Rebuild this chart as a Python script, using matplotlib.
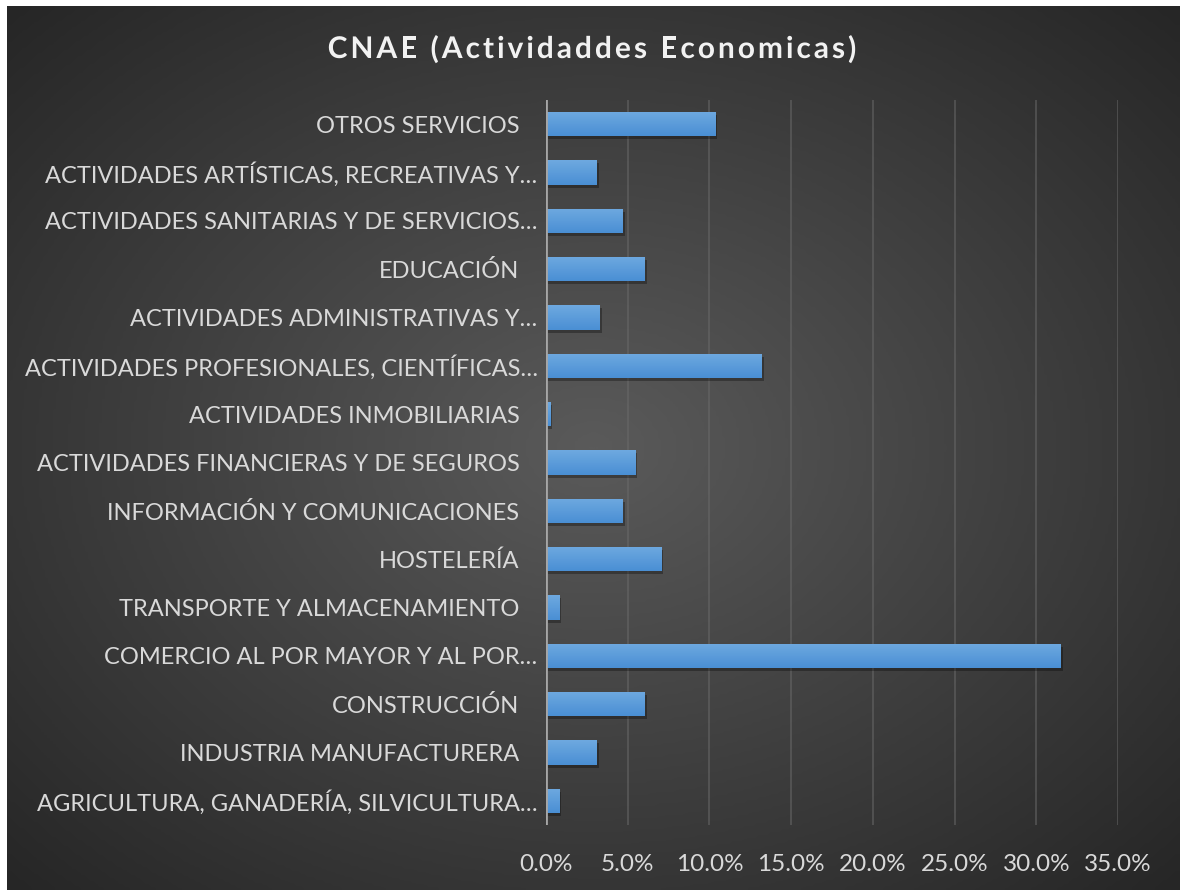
import numpy as np
import matplotlib
matplotlib.use('Agg')
import matplotlib.pyplot as plt
import matplotlib.patheffects as pe
from matplotlib.transforms import offset_copy, ScaledTranslation
from matplotlib.ticker import FuncFormatter
from matplotlib.colors import LinearSegmentedColormap

# categories from bottom to top, as in the chart
categories = [
    'AGRICULTURA, GANADERÍA, SILVICULTURA…',
    'INDUSTRIA MANUFACTURERA',
    'CONSTRUCCIÓN',
    'COMERCIO AL POR MAYOR Y AL POR…',
    'TRANSPORTE Y ALMACENAMIENTO',
    'HOSTELERÍA',
    'INFORMACIÓN Y COMUNICACIONES',
    'ACTIVIDADES FINANCIERAS Y DE SEGUROS',
    'ACTIVIDADES INMOBILIARIAS',
    'ACTIVIDADES PROFESIONALES, CIENTÍFICAS…',
    'ACTIVIDADES ADMINISTRATIVAS Y…',
    'EDUCACIÓN',
    'ACTIVIDADES SANITARIAS Y DE SERVICIOS…',
    'ACTIVIDADES ARTÍSTICAS, RECREATIVAS Y…',
    'OTROS SERVICIOS',
]
# share of companies, in %
values = [0.8, 3.1, 6.05, 31.5, 0.8, 7.05, 4.7, 5.45, 0.25, 13.2, 3.3, 6.05, 4.7, 3.1, 10.35]
xticks = [0, 5, 10, 15, 20, 25, 30, 35]
title = 'CNAE (Actividaddes Economicas)'

plt.rcParams['font.family'] = ['Lato', 'DejaVu Sans']
text_col = '#d9d9d9'

fig = plt.figure(figsize=(11.8, 8.9), dpi=100)
fig.patch.set_facecolor('white')

# radial dark background, leaving the thin white strip at top and left
bg = fig.add_axes([7 / 1180, 0, 1 - 7 / 1180, 1 - 6 / 890])
bg.set_axis_off()
yy, xx = np.mgrid[0:1:300j, 0:1:400j]
r = np.sqrt(((xx - 0.5) / 0.75) ** 2 + ((yy - 0.5) / 0.75) ** 2)
r = np.clip(r / 0.95, 0, 1)
bg_cmap = LinearSegmentedColormap.from_list('bg', ['#5a5a5a', '#262626'])
bg.imshow(r, cmap=bg_cmap, aspect='auto', extent=[0, 1, 0, 1], interpolation='bilinear')

ax = fig.add_axes([546 / 1180, 1 - 825 / 890, (1118 - 546) / 1180, (825 - 100) / 890])
ax.patch.set_alpha(0)

y = np.arange(len(categories))
shadow_tr = offset_copy(ax.transData, fig=fig, x=2, y=-3, units='dots')
ax.barh(y, values, height=0.5, color='black', alpha=0.3, transform=shadow_tr, zorder=2)
bars = ax.barh(y, values, height=0.5, color='#5b9bd5', zorder=3)

# vertical gradient on each bar
bar_cmap = LinearSegmentedColormap.from_list('bar', ['#4a8fd4', '#6ea9e0'])
grad = np.linspace(0, 1, 50).reshape(-1, 1)
for b in bars:
    x0, y0, w, h = b.get_x(), b.get_y(), b.get_width(), b.get_height()
    im = ax.imshow(grad, cmap=bar_cmap, aspect='auto', origin='lower',
                   extent=[x0, x0 + w, y0, y0 + h], zorder=4)
    im.set_clip_path(b)

ax.set_xlim(0, 35)
ax.set_ylim(-0.5, len(categories) - 0.5)
ax.set_xticks(xticks)
ax.xaxis.set_major_formatter(FuncFormatter(lambda v, p: f'{v:.1f}%'))
ax.grid(axis='x', color='#6a6a6a', linewidth=1.2, alpha=0.6, zorder=0)
ax.axvline(0, color='#a6a6a6', linewidth=2, zorder=5)
for s in ax.spines.values():
    s.set_visible(False)

ax.set_yticks(y)
ax.set_yticklabels(categories)
ax.tick_params(axis='y', length=0, pad=19, labelsize=17, labelcolor=text_col)
ax.tick_params(axis='x', length=0, pad=21, labelsize=17.5, labelcolor=text_col)
# Excel leaves the truncated labels a bit closer to the axis
for lbl in ax.get_yticklabels():
    if lbl.get_text().endswith('…'):
        lbl.set_transform(lbl.get_transform() + ScaledTranslation(0.18, 0, fig.dpi_scale_trans))

# spaced-out bold title, drawn letter by letter
renderer = fig.canvas.get_renderer()
title_size = 21.5
spacing = 3.0  # extra pixels between letters


def text_width(s):
    t = fig.text(0, 0, s, fontsize=title_size, fontweight='bold')
    w = t.get_window_extent(renderer).width
    t.remove()
    return w


space_w = text_width('a a') - text_width('aa')
widths = [space_w if ch == ' ' else text_width(ch) for ch in title]
total = sum(widths) + spacing * (len(title) - 1)
xpos = 592 - total / 2
title_fx = [pe.SimpleLineShadow(offset=(1.5, -1.5), shadow_color='black', alpha=0.35), pe.Normal()]
for ch, w in zip(title, widths):
    if ch != ' ':
        fig.text(xpos / 1180, 1 - 49 / 890, ch, ha='left', va='center', fontsize=title_size,
                 fontweight='bold', color='#f2f2f2', path_effects=title_fx)
    xpos += w + spacing

fig.savefig('out.png', dpi=100, facecolor=fig.get_facecolor())
